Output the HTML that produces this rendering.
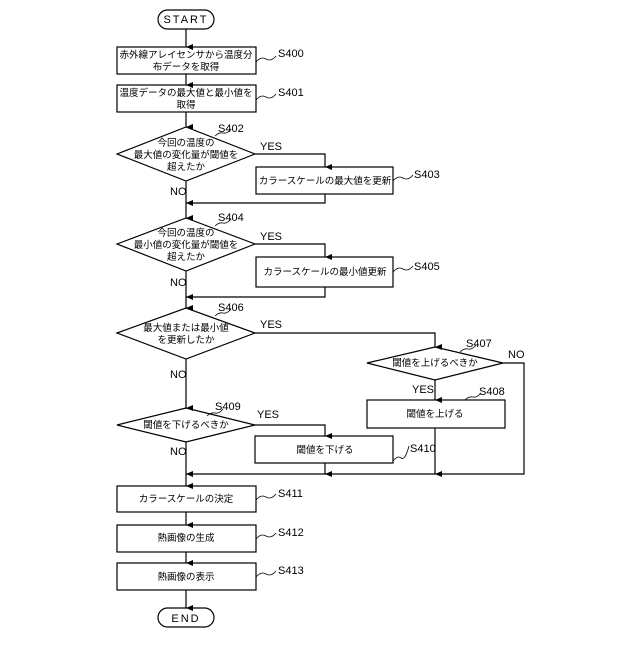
<!DOCTYPE html>
<html><head><meta charset="utf-8"><style>
html,body{margin:0;padding:0;background:#fff}
svg text{font-family:"Liberation Sans","Noto Sans CJK JP",sans-serif;font-size:9.5px;fill:#000}
.l{font-size:11px}
</style></head><body>
<svg width="640" height="640" viewBox="0 0 640 640" xmlns="http://www.w3.org/2000/svg">
<defs><marker id="a" markerWidth="8" markerHeight="8" refX="4" refY="7" orient="auto" markerUnits="userSpaceOnUse"><path d="M1,0 L4,7 L7,0 Z" fill="#000"/></marker>
<marker id="h" markerWidth="8" markerHeight="8" refX="7" refY="4" orient="auto" markerUnits="userSpaceOnUse"><path d="M0,1 L7,4 L0,7 Z" fill="#000"/></marker></defs>
<g fill="none" stroke="#000" stroke-width="1.2">
<rect x="158" y="10" width="56" height="19" rx="9.5"/>
<rect x="117" y="47" width="139" height="27"/>
<rect x="117" y="85" width="139" height="27"/>
<polygon points="117,154 186,127 255,154 186,181"/>
<rect x="256" y="167" width="137" height="27"/>
<polygon points="117,244 186,218 255,244 186,271"/>
<rect x="256" y="257" width="137" height="30"/>
<polygon points="117,333 186,308 255,333 186,359"/>
<polygon points="367,363 435,347 503,363 435,380"/>
<rect x="367" y="400" width="138" height="28"/>
<polygon points="117,425 186,408 255,425 186,442"/>
<rect x="255" y="436" width="138" height="27"/>
<rect x="117" y="486" width="139" height="26"/>
<rect x="117" y="525" width="139" height="27"/>
<rect x="117" y="563" width="139" height="27"/>
<rect x="158" y="608" width="56" height="19" rx="9.5"/>
<!-- main lines -->
<line x1="186" y1="29" x2="186" y2="47" marker-end="url(#a)"/>
<line x1="186" y1="74" x2="186" y2="85" marker-end="url(#a)"/>
<line x1="186" y1="112" x2="186" y2="127" marker-end="url(#a)"/>
<line x1="186" y1="181" x2="186" y2="218" marker-end="url(#a)"/>
<line x1="186" y1="271" x2="186" y2="308" marker-end="url(#a)"/>
<line x1="186" y1="359" x2="186" y2="408" marker-end="url(#a)"/>
<line x1="186" y1="442" x2="186" y2="486" marker-end="url(#a)"/>
<line x1="186" y1="512" x2="186" y2="525" marker-end="url(#a)"/>
<line x1="186" y1="552" x2="186" y2="563" marker-end="url(#a)"/>
<line x1="186" y1="590" x2="186" y2="608" marker-end="url(#a)"/>
<polyline points="255,154 325,154 325,167" marker-end="url(#a)"/>
<polyline points="325,194 325,203 186,203" marker-end="url(#h)"/>
<polyline points="255,244 325,244 325,257" marker-end="url(#a)"/>
<polyline points="325,287 325,297 186,297" marker-end="url(#h)"/>
<polyline points="255,333 435,333 435,347" marker-end="url(#a)"/>
<line x1="435" y1="380" x2="435" y2="400" marker-end="url(#a)"/>
<line x1="435" y1="428" x2="435" y2="474" marker-end="url(#a)"/>
<polyline points="503,363 524,363 524,474 186,474" marker-end="url(#h)"/>
<polyline points="255,425 325,425 325,436" marker-end="url(#a)"/>
<line x1="325" y1="463" x2="325" y2="474" marker-end="url(#a)"/>
<!-- squiggles -->
<path d="M256,62 q5,-6 10,-3 q5,3 10,-3" stroke-width="0.8"/>
<path d="M256,100 q5,-6 10,-3 q5,3 10,-3" stroke-width="0.8"/>
<path d="M215,136 q4,-4 8,-3 q4,1 8,-4" stroke-width="0.8"/>
<path d="M393,181 q5,-6 10,-3 q5,3 10,-3" stroke-width="0.8"/>
<path d="M215,226 q4,-4 8,-3 q4,1 8,-4" stroke-width="0.8"/>
<path d="M393,272 q5,-6 10,-3 q5,3 10,-3" stroke-width="0.8"/>
<path d="M215,316 q4,-4 8,-3 q4,1 8,-4" stroke-width="0.8"/>
<path d="M460,352 q4,-4 8,-3 q4,1 8,-4" stroke-width="0.8"/>
<path d="M465,400 q4,-4 8,-3 q4,1 8,-4" stroke-width="0.8"/>
<path d="M207,416 q4,-4 8,-3 q4,1 8,-4" stroke-width="0.8"/>
<path d="M393,461 q5,-6 8,-3 q4,3 8,-12" stroke-width="0.8"/>
<path d="M256,500 q5,-6 10,-3 q5,3 10,-3" stroke-width="0.8"/>
<path d="M256,539 q5,-6 10,-3 q5,3 10,-3" stroke-width="0.8"/>
<path d="M256,577 q5,-6 10,-3 q5,3 10,-3" stroke-width="0.8"/>
</g>
<g text-anchor="middle">
<text x="186" y="23" letter-spacing="2" class="l">START</text>
<text x="186" y="58">赤外線アレイセンサから温度分</text>
<text x="186" y="70">布データを取得</text>
<text x="186" y="96">温度データの最大値と最小値を</text>
<text x="186" y="108">取得</text>
<text x="186" y="146">今回の温度の</text>
<text x="186" y="158">最大値の変化量が閾値を</text>
<text x="186" y="170">超えたか</text>
<text x="325" y="184">カラースケールの最大値を更新</text>
<text x="186" y="236">今回の温度の</text>
<text x="186" y="248">最小値の変化量が閾値を</text>
<text x="186" y="260">超えたか</text>
<text x="325" y="275">カラースケールの最小値更新</text>
<text x="186" y="331">最大値または最小値</text>
<text x="186" y="343">を更新したか</text>
<text x="435" y="366">閾値を上げるべきか</text>
<text x="435" y="417">閾値を上げる</text>
<text x="186" y="428">閾値を下げるべきか</text>
<text x="325" y="453">閾値を下げる</text>
<text x="186" y="502">カラースケールの決定</text>
<text x="186" y="541">熱画像の生成</text>
<text x="186" y="580">熱画像の表示</text>
<text x="186" y="622" letter-spacing="2" class="l">END</text>
</g>
<g class="l">
<text x="278" y="57" class="l">S400</text>
<text x="278" y="96" class="l">S401</text>
<text x="218" y="132" class="l">S402</text>
<text x="414" y="178" class="l">S403</text>
<text x="218" y="221" class="l">S404</text>
<text x="414" y="270" class="l">S405</text>
<text x="218" y="311" class="l">S406</text>
<text x="466" y="347" class="l">S407</text>
<text x="479" y="395" class="l">S408</text>
<text x="215" y="410" class="l">S409</text>
<text x="410" y="452" class="l">S410</text>
<text x="278" y="497" class="l">S411</text>
<text x="278" y="536" class="l">S412</text>
<text x="278" y="574" class="l">S413</text>
<text x="260" y="150" class="l">YES</text>
<text x="170" y="195" class="l">NO</text>
<text x="260" y="240" class="l">YES</text>
<text x="170" y="286" class="l">NO</text>
<text x="260" y="328" class="l">YES</text>
<text x="170" y="378" class="l">NO</text>
<text x="508" y="358" class="l">NO</text>
<text x="412" y="393" class="l">YES</text>
<text x="257" y="418" class="l">YES</text>
<text x="170" y="455" class="l">NO</text>
</g>
</svg>
</body></html>
